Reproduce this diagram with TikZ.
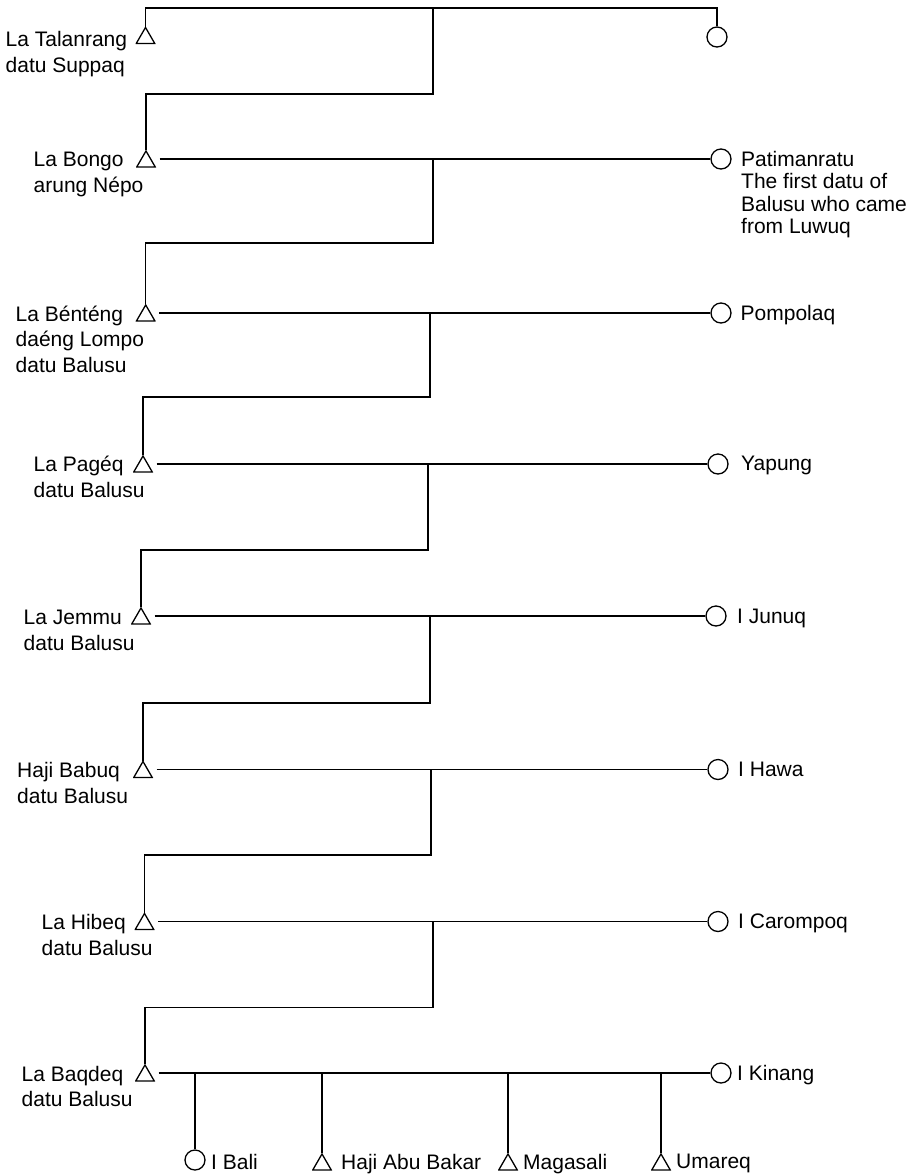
\documentclass[tikz,border=0pt]{standalone}
\usepackage{fontspec}
\setmainfont{Liberation Sans}
\begin{document}
\begin{tikzpicture}[x=1pt,y=-1pt,
  line/.style={line width=1.3pt, draw=black},
  male/.style={draw=none, rectangle, minimum width=20pt, minimum height=17.5pt,
    inner sep=0pt, outer sep=0pt,
    path picture={\draw[line width=1.3pt, line join=miter]
      ([shift={(0.7pt,0.7pt)}]path picture bounding box.south west) --
      ([shift={(-0.7pt,0.7pt)}]path picture bounding box.south east) --
      ([yshift=-0.7pt]path picture bounding box.north) -- cycle;}},
  female/.style={circle, draw, line width=1.3pt, minimum size=20pt, inner sep=0pt},
  lbl/.style={font=\fontsize{21}{25.5}\selectfont, align=left, inner sep=0pt, anchor=base west},
  rlbl/.style={font=\fontsize{21}{22.5}\selectfont, align=left, inner sep=0pt, anchor=base west},
  marry/.style={line, shorten <=3.5pt}
]
\useasboundingbox (0,0) rectangle (920,1176);

% generation 1
\node[male] (t1) at (145.5,35.5) {};
\node[female] (c1) at (717,37) {};
\node[lbl] (l1) at (5.5,72.2) {La Talanrang\\datu Suppaq};
\coordinate (j1) at (433,8);
\draw[line] (t1.north) |- (j1) -| (c1.north);

% generation 2
\node[male] (t2) at (146,159) {};
\node[female] (c2) at (721,159) {};
\node[lbl] (l2) at (33.5,192) {La Bongo\\arung Népo};
\node[rlbl] (r2) at (741,233.5) {Patimanratu\\The first datu of\\Balusu who came\\from Luwuq};
\draw[marry] (t2.east) -- (c2.west);
\draw[line] (j1) -- ++(0,86) -| (t2.north);
\coordinate (j2) at (433,159);

% generation 3
\node[male] (t3) at (145.7,313) {};
\node[female] (c3) at (721,313) {};
\node[lbl] (l3) at (15.5,372) {La Bénténg\\daéng Lompo\\datu Balusu};
\node[rlbl] (r3) at (740.5,320) {Pompolaq};
\draw[marry] (t3.east) -- (c3.west);
\draw[line] (j2) -- ++(0,84) -| (t3.north);
\coordinate (j3) at (430,313);

% generation 4
\node[male] (t4) at (143,464) {};
\node[female] (c4) at (718,464) {};
\node[lbl] (l4) at (33.5,497) {La Pagéq\\datu Balusu};
\node[rlbl] (r4) at (741,470.5) {Yapung};
\draw[marry] (t4.east) -- (c4.west);
\draw[line] (j3) -- ++(0,84) -| (t4.north);
\coordinate (j4) at (428,464);

% generation 5
\node[male] (t5) at (141,616) {};
\node[female] (c5) at (716,616) {};
\node[lbl] (l5) at (23.5,650) {La Jemmu\\datu Balusu};
\node[rlbl] (r5) at (737,623) {I Junuq};
\draw[marry] (t5.east) -- (c5.west);
\draw[line] (j4) -- ++(0,86) -| (t5.north);
\coordinate (j5) at (430,616);

% generation 6
\node[male] (t6) at (143,769.5) {};
\node[female] (c6) at (718,769.5) {};
\node[lbl] (l6) at (17,803) {Haji Babuq\\datu Balusu};
\node[rlbl] (r6) at (738,776.5) {I Hawa};
\draw[marry] (t6.east) -- (c6.west);
\draw[line] (j5) -- ++(0,87) -| (t6.north);
\coordinate (j6) at (431,769.5);

% generation 7
\node[male] (t7) at (144.5,921.5) {};
\node[female] (c7) at (718,921.5) {};
\node[lbl] (l7) at (41.5,955) {La Hibeq\\datu Balusu};
\node[rlbl] (r7) at (738,928.5) {I Carompoq};
\draw[marry] (t7.east) -- (c7.west);
\draw[line] (j6) -- ++(0,85.5) -| (t7.north);
\coordinate (j7) at (433,921.5);

% generation 8
\node[male] (t8) at (145,1073) {};
\node[female] (c8) at (721,1073) {};
\node[lbl] (l8) at (21.5,1106.5) {La Baqdeq\\datu Balusu};
\node[rlbl] (r8) at (737,1080) {I Kinang};
\draw[marry] (t8.east) -- (c8.west);
\draw[line] (j7) -- ++(0,86) -| (t8.north);

% children
\node[female] (k1) at (195,1160) {};
\node[male] (k2) at (322,1162) {};
\node[male] (k3) at (508,1162) {};
\node[male] (k4) at (661,1162) {};
\coordinate (d1) at (195,1073);
\coordinate (d2) at (322,1073);
\coordinate (d3) at (508,1073);
\coordinate (d4) at (661,1073);
\draw[line] (d1) -- (k1.north);
\draw[line] (d2) -- (k2.north);
\draw[line] (d3) -- (k3.north);
\draw[line] (d4) -- (k4.north);
\node[rlbl] (m1) at (211,1169) {I Bali};
\node[rlbl] (m2) at (341,1169) {Haji Abu Bakar};
\node[rlbl] (m3) at (523,1169) {Magasali};
\node[rlbl] (m4) at (676,1168) {Umareq};
\end{tikzpicture}
\end{document}
